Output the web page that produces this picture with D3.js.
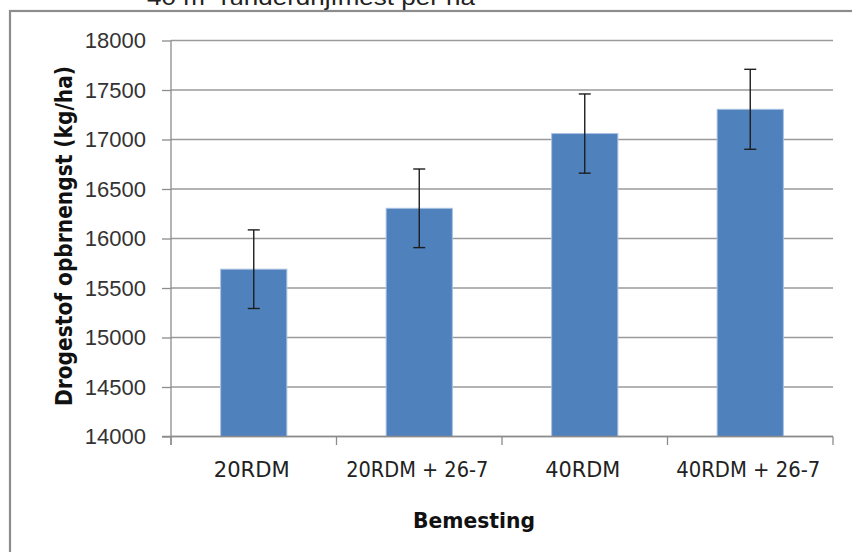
<!DOCTYPE html>
<html>
<head>
<meta charset="utf-8">
<script src="https://cdn.jsdelivr.net/npm/d3@7"></script>
<style>
  html, body { margin: 0; padding: 0; background: #fff; }
  svg { display: block; }
</style>
</head>
<body>
<svg id="chart" width="852" height="552"></svg>
<script>
const categories = ["20RDM", "20RDM + 26-7", "40RDM", "40RDM + 26-7"];
const yields = [15690, 16305, 17060, 17305];
const errors = [397, 397, 400, 404];
const yTicks = [14000, 14500, 15000, 15500, 16000, 16500, 17000, 17500, 18000];
const topTitle = "40 m³ runderdrijfmest per ha";
const xTitle = "Bemesting";
const yTitle = "Drogestof opbrnengst (kg/ha)";

const plotLeft = 171, plotRight = 833, plotTop = 40.5, plotBottom = 436.5;
const gray = "#8c8c8c";

const svg = d3.select("#chart");

// outer chart frame (runs off the right/bottom edge like the crop)
svg.append("rect")
  .attr("x", 10).attr("y", 11)
  .attr("width", 900).attr("height", 600)
  .attr("fill", "none")
  .attr("stroke", gray)
  .attr("stroke-width", 2.2);

// title above the frame, cropped by the top edge as in the source
svg.append("text")
  .attr("x", 147).attr("y", 5)
  .attr("font-family", "'Liberation Sans', Arial, sans-serif")
  .attr("font-size", 22)
  .attr("fill", "#222")
  .attr("textLength", 328)
  .attr("lengthAdjust", "spacingAndGlyphs")
  .text(topTitle);

const xScale = d3.scaleBand()
  .domain(categories)
  .range([plotLeft, plotRight])
  .paddingInner(0.6)
  .paddingOuter(0.3);

const yScale = d3.scaleLinear()
  .domain([14000, 18000])
  .range([plotBottom, plotTop]);

// gridlines
svg.append("g")
  .selectAll("line")
  .data(yTicks)
  .join("line")
  .attr("x1", plotLeft).attr("x2", plotRight)
  .attr("y1", (d) => yScale(d)).attr("y2", (d) => yScale(d))
  .attr("stroke", "#9a9a9a")
  .attr("stroke-width", 1.3);

// y axis
const yAxis = d3.axisLeft(yScale)
  .tickValues(yTicks)
  .tickFormat(d3.format("d"))
  .tickSize(9)
  .tickSizeOuter(0)
  .tickPadding(16);
const gy = svg.append("g")
  .attr("transform", `translate(${plotLeft},0)`)
  .call(yAxis);
gy.select(".domain").remove();
gy.selectAll(".tick line").attr("stroke", gray).attr("stroke-width", 1.3);
gy.selectAll(".tick text")
  .attr("font-family", "'Liberation Sans', Arial, sans-serif")
  .attr("font-size", 22)
  .attr("fill", "#333");

svg.append("line")
  .attr("x1", plotLeft).attr("x2", plotLeft)
  .attr("y1", plotTop).attr("y2", plotBottom + 8.5)
  .attr("stroke", gray).attr("stroke-width", 1.3);

// bars
svg.append("g")
  .selectAll("rect")
  .data(categories)
  .join("rect")
  .attr("x", (d) => xScale(d))
  .attr("y", (d, i) => yScale(yields[i]))
  .attr("width", xScale.bandwidth())
  .attr("height", (d, i) => plotBottom - yScale(yields[i]))
  .attr("fill", "#4f81bd")
  .attr("stroke", "#a9c0e0")
  .attr("stroke-width", 1);

// x axis
const xAxisLine = svg.append("g");
xAxisLine.append("line")
  .attr("x1", plotLeft - 9).attr("x2", plotRight)
  .attr("y1", plotBottom).attr("y2", plotBottom)
  .attr("stroke", gray).attr("stroke-width", 1.3);
const step = xScale.step();
const edges = categories.map((d) => xScale(d) - step * 0.3).concat([plotRight]);
xAxisLine.selectAll(".edge")
  .data(edges)
  .join("line")
  .attr("class", "edge")
  .attr("x1", (d) => d).attr("x2", (d) => d)
  .attr("y1", plotBottom).attr("y2", plotBottom + 8.5)
  .attr("stroke", gray).attr("stroke-width", 1.3);

const labelWidths = [76, 142, 75, 144];
svg.append("g")
  .selectAll("text")
  .data(categories)
  .join("text")
  .attr("x", (d) => xScale(d) + xScale.bandwidth() / 2 - 2)
  .attr("y", 477)
  .attr("text-anchor", "middle")
  .attr("font-family", "'Liberation Sans Narrow', 'DejaVu Sans Condensed', sans-serif")
  .attr("font-size", 22)
  .attr("fill", "#222")
  .attr("textLength", (d, i) => labelWidths[i])
  .attr("lengthAdjust", "spacingAndGlyphs")
  .text((d) => d);

// error bars
const errG = svg.append("g").attr("stroke", "#1e1e1e").attr("stroke-width", 1.4);
categories.forEach((c, i) => {
  const cx = xScale(c) + xScale.bandwidth() / 2;
  const y1 = yScale(yields[i] + errors[i]);
  const y2 = yScale(yields[i] - errors[i]);
  errG.append("line").attr("x1", cx).attr("x2", cx).attr("y1", y1).attr("y2", y2);
  errG.append("line").attr("x1", cx - 6).attr("x2", cx + 6).attr("y1", y1).attr("y2", y1);
  errG.append("line").attr("x1", cx - 6).attr("x2", cx + 6).attr("y1", y2).attr("y2", y2);
});

// axis titles
svg.append("text")
  .attr("x", 474).attr("y", 528)
  .attr("text-anchor", "middle")
  .attr("font-family", "'Liberation Sans Narrow', 'DejaVu Sans Condensed', sans-serif")
  .attr("font-weight", "bold")
  .attr("font-size", 22)
  .attr("fill", "#111")
  .attr("textLength", 122)
  .attr("lengthAdjust", "spacingAndGlyphs")
  .text(xTitle);

svg.append("text")
  .attr("transform", "translate(72,236) rotate(-90)")
  .attr("text-anchor", "middle")
  .attr("font-family", "'Liberation Sans Narrow', 'DejaVu Sans Condensed', sans-serif")
  .attr("font-weight", "bold")
  .attr("font-size", 23)
  .attr("fill", "#111")
  .attr("textLength", 340)
  .attr("lengthAdjust", "spacingAndGlyphs")
  .text(yTitle);
</script>
</body>
</html>
